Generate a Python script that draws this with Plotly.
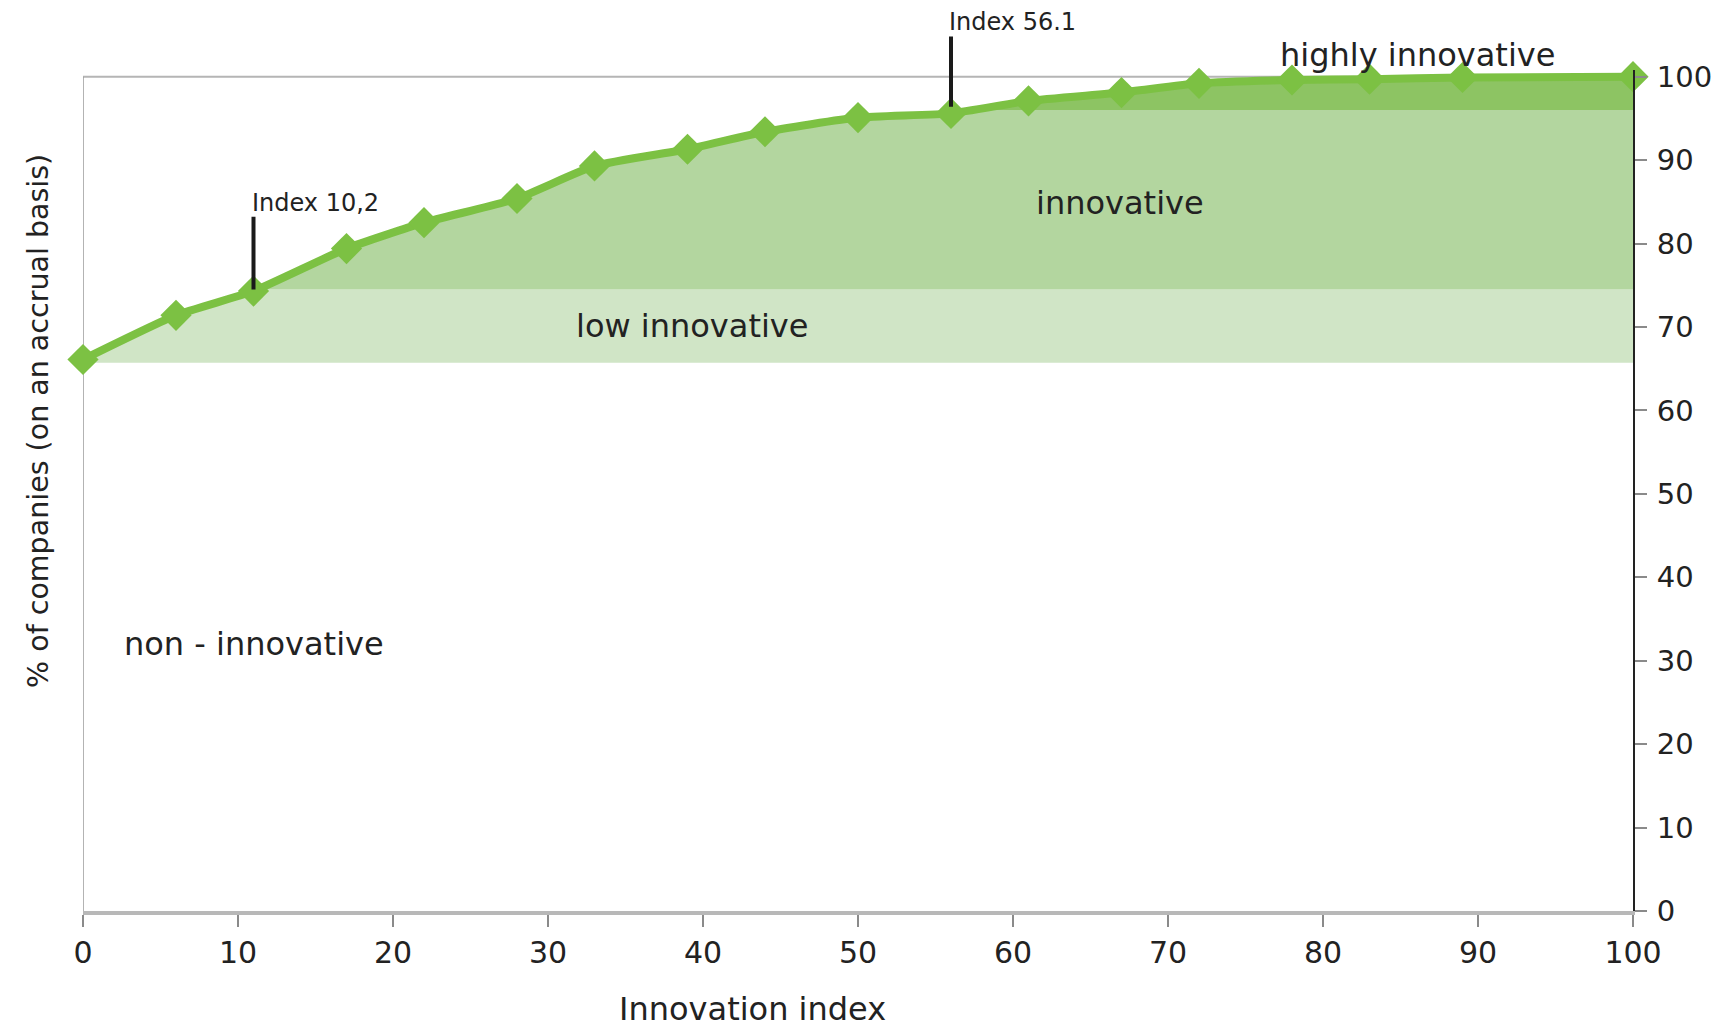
# Innovation index curve: share of companies by cumulative innovation index

# Imports

# Third party
import numpy as np
import plotly.graph_objects as go


# Globals

# Curve points
innovation_index = [0, 6, 11, 17, 22, 28, 33, 39, 44, 50, 56, 61, 67, 72, 78, 83, 89, 100]
share_companies = [66.1, 71.4, 74.3, 79.4, 82.5, 85.4, 89.3, 91.3, 93.4, 95.1, 95.6,
                   97.1, 98.1, 99.2, 99.6, 99.7, 99.9, 100.0]

# Category bands (lower, upper bound on the y axis)
band_names = ["low innovative", "innovative", "highly innovative"]
band_lower = [65.7, 74.5, 96.0]
band_upper = [74.5, 96.0, 100.0]
band_colors = ["#d0e5c6", "#b3d69f", "#8dc463"]

# Index markers (x, bottom, top, label)
marker_x = [11, 56]
marker_bottom = [74.5, 96.4]
marker_top = [83.4, 105.0]
marker_labels = ["Index 10,2", "Index 56.1"]

# Band labels and their positions
label_texts = ["low innovative", "innovative", "highly innovative", "non - innovative"]
label_x = [39.3, 66.9, 86.1, 11.0]
label_y = [70.1, 84.9, 102.6, 32.0]

x_ticks = list(range(0, 101, 10))
y_ticks = list(range(0, 101, 10))
Y_MAX = 100.8

LINE_GREEN = "#7cc143"
FONT = "DejaVu Sans"
TEXT_COLOR = "#222222"


# Helpers

def clipped_band(p_x, p_y, p_lo, p_hi):

    # Add the points where the curve crosses the band edges so the fill is exact
    xs = list(p_x)
    for k in range(len(p_x) - 1):
        x0, x1 = p_x[k], p_x[k + 1]
        y0, y1 = p_y[k], p_y[k + 1]
        for t in (p_lo, p_hi):
            if (y0 - t) * (y1 - t) < 0:
                xs.append(x0 + (t - y0) / (y1 - y0) * (x1 - x0))
    xs = np.array(sorted(xs))
    ys = np.clip(np.interp(xs, p_x, p_y), p_lo, p_hi)
    return xs, ys


def text_at(p_fig, p_x, p_y, p_text, p_size, **p_kwargs):

    # Values above the y range would be hidden, so those go through paper coordinates
    if p_y > Y_MAX:
        p_fig.add_annotation(x=p_x, y=p_y / Y_MAX, xref="x", yref="paper", text=p_text,
                             showarrow=False, font=dict(family=FONT, size=p_size, color=TEXT_COLOR),
                             **p_kwargs)
    else:
        p_fig.add_annotation(x=p_x, y=p_y, xref="x", yref="y", text=p_text,
                             showarrow=False, font=dict(family=FONT, size=p_size, color=TEXT_COLOR),
                             **p_kwargs)


# Figure

fig = go.Figure()

# A. Bands under the curve
for name, lo, hi, color in zip(band_names, band_lower, band_upper, band_colors):
    xs, ys = clipped_band(innovation_index, share_companies, lo, hi)
    fig.add_trace(go.Scatter(x=xs, y=[lo] * len(xs), mode="lines",
                             line=dict(width=0, color=color), hoverinfo="skip",
                             showlegend=False))
    fig.add_trace(go.Scatter(x=xs, y=ys, mode="lines", fill="tonexty",
                             fillcolor=color, line=dict(width=0, color=color),
                             name=name, showlegend=False))

# B. The curve itself
fig.add_trace(go.Scatter(
    x=innovation_index, y=share_companies, mode="lines+markers",
    line=dict(color=LINE_GREEN, width=8, shape="spline", smoothing=0.5),
    marker=dict(symbol="diamond", size=24, color=LINE_GREEN),
    cliponaxis=False, showlegend=False))

# C. Plot frame: grey top and left lines
fig.add_shape(type="line", xref="x", yref="y", x0=0, x1=100, y0=100, y1=100,
              line=dict(color="#b5b5b5", width=2), layer="below")
fig.add_shape(type="line", xref="x", yref="y", x0=0, x1=0, y0=0, y1=100,
              line=dict(color="#9a9a9a", width=1.5), layer="below")

# D. Index markers
for mx, mb, mt, txt in zip(marker_x, marker_bottom, marker_top, marker_labels):
    fig.add_annotation(x=mx, y=mb, ax=mx, ay=mt, xref="x", yref="y", axref="x", ayref="y",
                       text="", showarrow=True, arrowhead=0, arrowwidth=4, arrowcolor="#1a1a1a")
    text_at(fig, mx - 0.25, mt - 0.4, txt, 24, xanchor="left", yanchor="bottom")

# E. Band labels
for txt, lx, ly in zip(label_texts, label_x, label_y):
    text_at(fig, lx, ly, txt, 32, xanchor="center", yanchor="middle")

# F. Axis titles
fig.add_annotation(x=43.2, y=-0.117, xref="x", yref="paper", text="Innovation index",
                   xanchor="center", yanchor="middle",
                   showarrow=False, font=dict(family=FONT, size=32, color=TEXT_COLOR))
fig.add_annotation(x=-0.0286, y=58.7, xref="paper", yref="y",
                   text="% of companies (on an accrual basis)", textangle=-90,
                   xanchor="center", yanchor="middle",
                   showarrow=False, font=dict(family=FONT, size=28.5, color=TEXT_COLOR))

fig.update_layout(
    width=1729, height=1031,
    margin=dict(l=75, r=104, t=62, b=128),
    plot_bgcolor="white", paper_bgcolor="white",
    xaxis=dict(range=[0, 100], tickvals=x_ticks, showgrid=False, zeroline=False,
               showline=True, linecolor="#b8b8b8", linewidth=4,
               ticks="outside", ticklen=12, tickcolor="#8a8a8a", tickwidth=1.5,
               tickfont=dict(family=FONT, size=30, color=TEXT_COLOR)),
    yaxis=dict(range=[0, Y_MAX], tickvals=y_ticks, side="right", showgrid=False,
               zeroline=False, showline=True, linecolor="#222222", linewidth=2,
               ticks="outside", ticklen=12, tickcolor="#8a8a8a", tickwidth=1.5,
               ticklabelstandoff=4,
               tickfont=dict(family=FONT, size=29, color=TEXT_COLOR)),
)

fig.write_html("out.html")
